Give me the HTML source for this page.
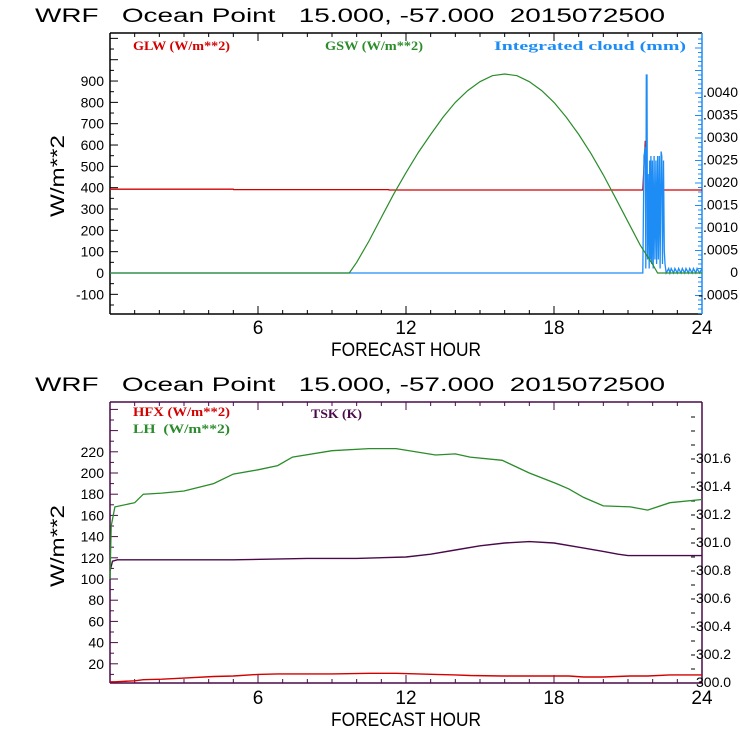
<!DOCTYPE html>
<html><head><meta charset="utf-8"><style>
html,body{margin:0;padding:0;background:#fff;}
svg{display:block;}
text{font-family:"Liberation Sans",sans-serif;}
.t{font-size:19px;fill:#000;white-space:pre;}
.tk{font-size:14px;fill:#000;}
.lg{font-family:"Liberation Serif",serif;font-size:13px;font-weight:bold;white-space:pre;}
</style></head><body>
<svg id="c" width="740" height="740" viewBox="0 0 740 740" xmlns="http://www.w3.org/2000/svg"></svg>
<script>
// ---- data ----
const hourTicks = [6, 12, 18, 24];
const glwHours = [0, 5, 5.01, 11.3, 11.31, 21.6, 21.7, 21.75, 21.8, 24];
const glwValues = [393, 393, 391, 391, 389, 389, 620, 389, 389, 389];
const gswHours = [0, 9.7, 10, 10.5, 11, 11.5, 12, 12.5, 13, 13.5, 14, 14.5, 15, 15.5, 16, 16.5, 17, 17.5, 18, 18.5, 19, 19.5, 20, 20.5, 21, 21.5, 22, 22.2, 24];
const gswValues = [0, 0, 50, 150, 260, 370, 470, 565, 650, 730, 800, 855, 897, 925, 933, 925, 897, 855, 800, 730, 650, 560, 460, 350, 240, 130, 40, 0, 0];
const cloudHours = [0, 21.6, 21.65, 21.7, 21.72, 21.74, 21.77, 21.79, 21.82, 21.86, 21.88, 21.91, 21.93, 21.96, 21.99, 22.02, 22.06, 22.09, 22.13, 22.16, 22.2, 22.23, 22.27, 22.3, 22.34, 22.37, 22.4, 22.44, 22.47, 22.5, 22.55, 22.65, 22.7, 22.75, 22.85, 22.9, 23.0, 23.05, 23.15, 23.2, 23.3, 23.35, 23.45, 23.5, 23.6, 23.65, 23.75, 23.8, 23.9, 24];
const cloudValues = [0, 0, 0.0026, 0.0028, 0.0001, 0.0044, 0.0044, 0.0003, 0.0022, 0.0001, 0.0025, 0.0003, 0.0026, 0.0002, 0.0025, 0.0001, 0.0026, 0.0003, 0.0025, 0.0002, 0.0026, 0.0003, 0.0026, 0.0001, 0.0027, 0.0026, 0.0002, 0.0025, 0.0005, 0.0002, 0, 0.0001, 0, 0.0001, 0, 0.0001, 0, 0.0001, 0, 0.0001, 0, 0.0001, 0, 0.0001, 0, 0.0001, 0, 0.0001, 0, 0.0001];
const topLeftTicks = [-100, 0, 100, 200, 300, 400, 500, 600, 700, 800, 900];
const topRightTicks = [-0.0005, 0, 0.0005, 0.001, 0.0015, 0.002, 0.0025, 0.003, 0.0035, 0.004];
const topRightLabels = ["-.0005", "0", ".0005", ".0010", ".0015", ".0020", ".0025", ".0030", ".0035", ".0040"];

const fluxHours = [0, 0.05, 0.2, 1, 1.35, 2.1, 3, 4.2, 5, 6, 6.8, 7.4, 9, 10.5, 11.6, 13.2, 14, 14.6, 15.9, 17, 18.1, 18.6, 19.2, 20, 21.1, 21.8, 22.7, 24];
const lhValues = [100, 150, 168, 172, 180, 181, 183, 190, 199, 203, 207, 215, 221, 223, 223, 217, 218, 215, 212, 200, 190, 185, 177, 169, 168, 165, 172, 175];
const hfxValues = [3, 3, 3, 4, 5, 5.5, 6.5, 8, 8.5, 10, 10.5, 10.5, 10.5, 11, 11, 10, 9.5, 9, 8.5, 8.5, 8.5, 8.5, 7.5, 7.5, 8.5, 8.5, 9.5, 9.5];
const tskHours = [0, 0.1, 0.3, 1, 3, 5, 8, 10, 12, 13, 14, 15, 16, 17, 18, 19, 20, 20.6, 21, 24];
const tskValues = [300.8, 300.87, 300.88, 300.88, 300.88, 300.88, 300.89, 300.89, 300.9, 300.92, 300.95, 300.98, 301.0, 301.01, 301.0, 300.97, 300.94, 300.92, 300.91, 300.91];
const botLeftTicks = [20, 40, 60, 80, 100, 120, 140, 160, 180, 200, 220];
const botRightTicks = [300.0, 300.2, 300.4, 300.6, 300.8, 301.0, 301.2, 301.4, 301.6];
const botRightLabels = ["300.0", "300.2", "300.4", "300.6", "300.8", "301.0", "301.2", "301.4", "301.6"];

// ---- colors/layout ----
const RED = "#d40000", GREEN = "#2a8c2a", BLUE = "#1e8cf5", PURP = "#4a0a4a";
const L = 110, R = 702;
const svg = document.getElementById('c');
const NS = "http://www.w3.org/2000/svg";
function mk(tag, attrs, parent) {
  const e = document.createElementNS(NS, tag);
  for (const k in attrs) e.setAttribute(k, attrs[k]);
  (parent || svg).appendChild(e);
  return e;
}
function txt(s, attrs, parent) { const e = mk('text', attrs, parent); e.textContent = s; return e; }
const xS = h => L + h * (R - L) / 24;

function poly(hs, vs, yf, color, name, w) {
  const pts = hs.map((h, i) => xS(h).toFixed(1) + ',' + yf(vs[i]).toFixed(1)).join(' ');
  const p = mk('polyline', {points: pts, fill: 'none', stroke: color, 'stroke-width': w || 1.3});
  
  
  return p;
}

function panel(top, bottom, frameColor, rightColor, titleY, xlabY, tickLabY, ylabY, nameP) {
  const g = mk('g', {});
  
  
  const t = txt("WRF   Ocean Point   15.000, -57.000  2015072500", {x: 35, y: titleY, class: 't', 'font-size': 18, textLength: 630, lengthAdjust: 'spacingAndGlyphs'}, g);
  
  
  mk('line', {x1: L, y1: top, x2: R, y2: top, stroke: frameColor, 'stroke-width': 1.5}, g);
  mk('line', {x1: L, y1: bottom, x2: R, y2: bottom, stroke: frameColor, 'stroke-width': 1.5}, g);
  mk('line', {x1: L, y1: top, x2: L, y2: bottom, stroke: frameColor, 'stroke-width': 1.5}, g);
  mk('line', {x1: R, y1: top, x2: R, y2: bottom, stroke: rightColor, 'stroke-width': 1.5}, g);
  for (let h = 1; h < 24; h++) {
    const len = h % 6 === 0 ? 8 : 4;
    mk('line', {x1: xS(h), y1: bottom, x2: xS(h), y2: bottom - len, stroke: frameColor}, g);
    mk('line', {x1: xS(h), y1: top, x2: xS(h), y2: top + len, stroke: frameColor}, g);
  }
  hourTicks.forEach(h => {
    const e = txt(String(h), {x: xS(h), y: tickLabY, 'text-anchor': 'middle', class: 't', 'font-size': 18}, g);
    
    
  });
  const xl = txt("FORECAST HOUR", {x: 406, y: xlabY, 'text-anchor': 'middle', class: 't', 'font-size': 17, textLength: 150, lengthAdjust: 'spacingAndGlyphs'}, g);
  
  
  const yl = txt("W/m**2", {x: 0, y: 0, 'text-anchor': 'middle', class: 't', 'font-size': 18, textLength: 82, lengthAdjust: 'spacingAndGlyphs', transform: `translate(64,${ylabY}) rotate(-90)`}, g);
  
  
  return g;
}

// ===== TOP PANEL =====
const T0 = 33, T1 = 314;
const yT = v => 273 - v * 0.2133;
const yC = v => 273 - v * 45000;
const gt = panel(T0, T1, '#000', BLUE, 22, 356, 334, 176, 'radiation');
for (let v = -150; v <= 1150; v += 50) {
  const y = yT(v); if (y < T0 || y > T1) continue;
  mk('line', {x1: L, y1: y, x2: L + (v % 100 === 0 ? 8 : 4), y2: y, stroke: '#000'}, gt);
}
topLeftTicks.forEach(v => {
  const e = txt(String(v), {x: 104, y: yT(v) + 5, 'text-anchor': 'end', class: 'tk'}, gt);
  
  
});
for (let i = -9; i <= 52; i++) {
  const v = i * 0.0001, y = yC(v); if (y < T0 || y > T1) continue;
  mk('line', {x1: R, y1: y, x2: R - (i % 5 === 0 ? 7 : 4), y2: y, stroke: BLUE}, gt);
}
topRightTicks.forEach((v, i) => {
  const e = txt(topRightLabels[i], {x: 738, y: yC(v) + 4, 'text-anchor': 'end', class: 'tk', 'font-size': 11}, gt);
  
  
});
[["GLW (W/m**2)", 133, RED, 97, 'glw-legend'], ["GSW (W/m**2)", 325, GREEN, 98, 'gsw-legend'], ["Integrated cloud (mm)", 494, BLUE, 192, 'cloud-legend']].forEach(a => {
  const e = txt(a[0], {x: a[1], y: 50, class: 'lg', fill: a[2], textLength: a[3], lengthAdjust: 'spacingAndGlyphs'}, gt);
  
  
});
poly(glwHours, glwValues, yT, RED, 'glw-line', 1.3);
poly(cloudHours, cloudValues, yC, BLUE, 'cloud-line', 1.3);
poly(gswHours, gswValues, yT, GREEN, 'gsw-line', 1.2);

// ===== BOTTOM PANEL =====
const B0 = 402, B1 = 683;
const yB = v => 685 - v * 1.06;
const yK = v => 683 - (v - 300) * 140;
const gb = panel(B0, B1, PURP, PURP, 391, 726, 704, 546, 'flux');
for (let v = 10; v <= 260; v += 10) {
  const y = yB(v); if (y < B0 || y > B1) continue;
  mk('line', {x1: L, y1: y, x2: L + (v % 20 === 0 ? 8 : 4), y2: y, stroke: PURP}, gb);
}
botLeftTicks.forEach(v => {
  const e = txt(String(v), {x: 104, y: yB(v) + 5, 'text-anchor': 'end', class: 'tk'}, gb);
  
  
});
for (let i = 1; i <= 19; i++) {
  const y = yK(300 + i * 0.1); if (y < B0) continue;
  mk('line', {x1: 691, y1: y, x2: 695, y2: y, stroke: '#000'}, gb);
}
botRightTicks.forEach((v, i) => {
  const e = txt(botRightLabels[i], {x: 696, y: yK(v) + 4, class: 'tk', 'font-size': 11}, gb);
  
  
});
[["HFX (W/m**2)", 133, 416, RED, 97, 'hfx-legend'], ["LH  (W/m**2)", 133, 433, GREEN, 97, 'lh-legend'], ["TSK (K)", 311, 418, PURP, 51, 'tsk-legend']].forEach(a => {
  const e = txt(a[0], {x: a[1], y: a[2], class: 'lg', fill: a[3], textLength: a[4], lengthAdjust: 'spacingAndGlyphs'}, gb);
  
  
});
poly(tskHours, tskValues, yK, PURP, 'tsk-line', 1.4);
poly(fluxHours, lhValues, yB, GREEN, 'lh-line', 1.3);
poly(fluxHours, hfxValues, yB, RED, 'hfx-line', 1.4);
</script>
</body></html>
